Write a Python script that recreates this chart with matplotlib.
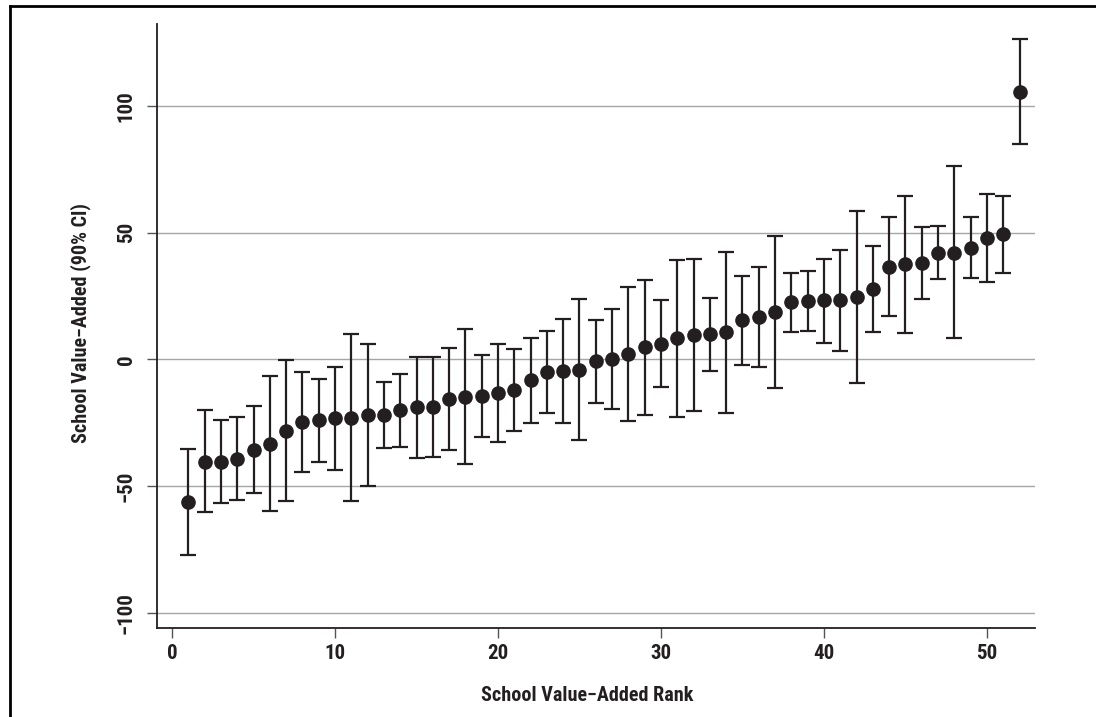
import matplotlib
matplotlib.use("Agg")
import matplotlib.pyplot as plt
from matplotlib.lines import Line2D

# -------------------------
# Data
# -------------------------
rank = list(range(1, 53))
value_added = [
    -56.3, -40.4, -40.4, -39.2, -35.7, -33.5, -28.2, -24.9, -24.1, -23.3,
    -23.2, -22.1, -22.1, -20.2, -19.0, -18.7, -15.8, -14.8, -14.5, -13.2,
    -12.2, -8.3, -5.2, -4.5, -4.1, -0.7, -0.1, 2.2, 4.7, 6.1,
    8.5, 9.7, 9.8, 10.7, 15.5, 16.6, 18.5, 22.5, 23.1, 23.3,
    23.3, 24.5, 27.7, 36.5, 37.4, 37.9, 42.1, 42.1, 44.0, 47.9,
    49.4, 105.4,
]
ci_upper = [
    -35.3, -20.0, -24.0, -22.9, -18.3, -6.6, -0.4, -5.0, -7.7, -3.1,
    9.8, 5.9, -9.0, -5.8, 0.9, 1.0, 4.3, 11.9, 1.8, 6.2,
    4.1, 8.4, 11.0, 16.0, 23.7, 15.6, 19.8, 28.7, 31.2, 23.4,
    39.3, 39.6, 24.0, 42.5, 32.8, 36.5, 48.7, 34.0, 34.8, 39.5,
    43.1, 58.6, 44.7, 56.1, 64.6, 52.0, 52.4, 76.2, 56.1, 65.3,
    64.4, 126.2,
]
ci_lower = [
    -77.4, -60.4, -56.6, -55.5, -52.9, -59.9, -56.1, -44.5, -40.6, -43.6,
    -56.1, -49.9, -34.9, -34.5, -38.8, -38.6, -36.0, -41.4, -30.8, -32.7,
    -28.5, -25.3, -21.4, -25.0, -31.9, -17.2, -19.8, -24.5, -21.9, -11.1,
    -22.7, -20.4, -4.5, -21.1, -2.4, -3.2, -11.5, 10.9, 11.1, 6.6,
    3.4, -9.4, 10.6, 17.2, 10.3, 23.7, 31.6, 8.2, 31.9, 30.4,
    34.1, 84.8,
]
x_ticks = [0, 10, 20, 30, 40, 50]
y_ticks = [-100, -50, 0, 50, 100]

ink = '#231f20'
# condensed bold face, close to the Helvetica Narrow look of the original
plt.rcParams['font.family'] = ['Roboto Condensed', 'PT Sans Narrow', 'DejaVu Sans']
plt.rcParams['font.weight'] = 'bold'

fig = plt.figure(figsize=(10.96, 7.17), dpi=100)
ax = fig.add_axes([0.143, 0.1237, 0.8015, 0.8428])

# grid lines at the y ticks
for yv in y_ticks:
    ax.axhline(yv, color='#a6a6a6', linewidth=1.0, zorder=0)

err_lo = [v - lo for v, lo in zip(value_added, ci_lower)]
err_hi = [hi - v for v, hi in zip(value_added, ci_upper)]
ax.errorbar(rank, value_added, yerr=[err_lo, err_hi], fmt='o', color=ink,
            ecolor=ink, elinewidth=1.6, capsize=5.5, capthick=1.6,
            markersize=9.5, zorder=3)

ax.set_xlim(-0.94, 52.96)
ax.set_ylim(-106.2, 132.3)
ax.set_xticks(x_ticks)
ax.set_yticks(y_ticks)
ax.tick_params(axis='both', direction='out', length=7, width=1.0,
               color='#555555', labelsize=15, labelcolor=ink)
ax.tick_params(axis='x', pad=4)
ax.tick_params(axis='y', pad=8)
for lab in ax.get_yticklabels():
    lab.set_rotation(90)
    lab.set_va('center')

for side in ['top', 'right']:
    ax.spines[side].set_visible(False)
for side in ['left', 'bottom']:
    ax.spines[side].set_color(ink)
    ax.spines[side].set_linewidth(1.3)

ax.set_xlabel('School Value\u2212Added Rank', fontsize=14.5, fontweight='bold', color=ink)
ax.set_ylabel('School Value\u2212Added (90% CI)', fontsize=14.5, fontweight='bold', color=ink)
ax.xaxis.set_label_coords(0.49, -0.095)
ax.yaxis.set_label_coords(-0.075, 0.505)

# frame lines (top and left only, as in the reference crop)
fig.add_artist(Line2D([10 / 1096, 1.0], [1 - 5.5 / 717, 1 - 5.5 / 717],
                      color='black', linewidth=2.0))
fig.add_artist(Line2D([10 / 1096, 10 / 1096], [0.0, 1 - 5.5 / 717],
                      color='black', linewidth=2.0))

fig.savefig('out.png', dpi=100)
